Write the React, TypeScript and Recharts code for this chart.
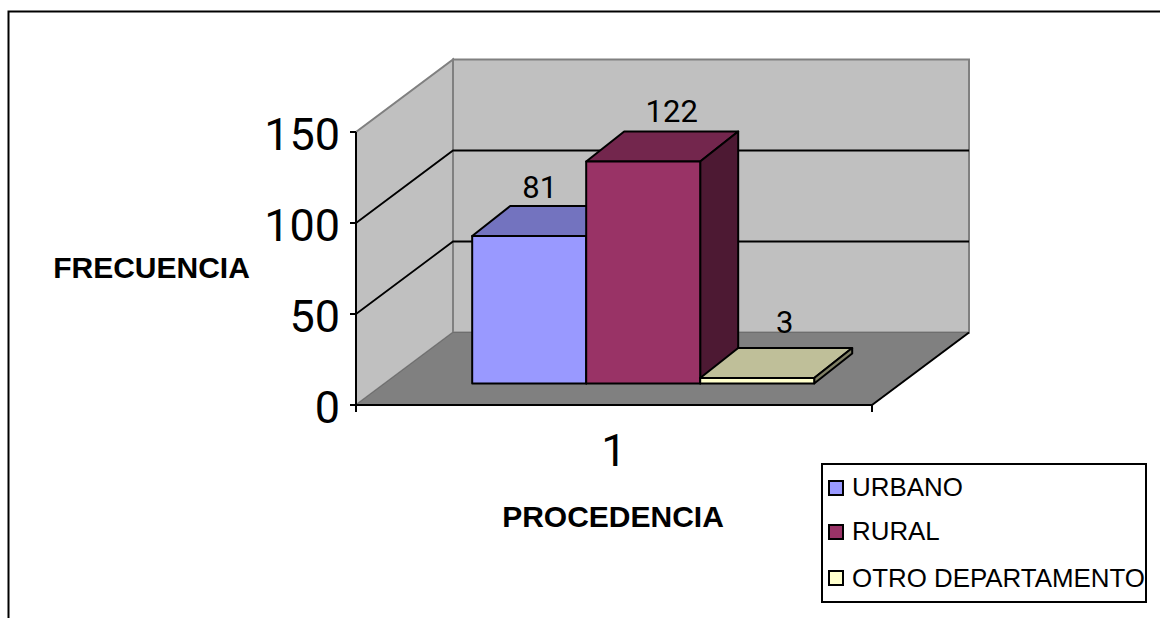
import React from "react";
import { BarChart, Bar, XAxis, YAxis, CartesianGrid, Legend, LabelList, Label } from "recharts";

const categories = ["1"];
const urbano = [81];
const rural = [122];
const otroDepartamento = [3];
const yTicks = [0, 50, 100, 150];

const chartRows = categories.map((procedencia, i) => ({
  procedencia,
  urbano: urbano[i],
  rural: rural[i],
  otro: otroDepartamento[i],
}));

const FONT = "'Liberation Sans', Arial, sans-serif";
// Numerals use a face whose "1" has no foot.
const NUM_FONT = "Roboto, 'Liberation Sans', sans-serif";

// Oblique projection of the box: how far the back wall sits from the front plane.
const ROOM_DX = 97;
const ROOM_DY = 72.5;
const PLOT_TOP = 132;
// Bars stand part way into the floor and have their own, shorter depth.
const BAR_SHIFT_X = 29.5;
const BAR_SHIFT_Y = 21.5;
const BAR_DX = 38;
const BAR_DY = 30;

const pts = (list: number[][]) => list.map((p) => p.join(",")).join(" ");

function RoomLine(props: any) {
  const { x1, x2, y1 } = props;
  const y = y1;
  const isBase = Math.abs(y - 405) < 1;
  const isTop = Math.abs(y - PLOT_TOP) < 1;
  return (
    <g>
      {isBase && (
        <g>
          <polygon
            points={pts([[x1, y], [x1, PLOT_TOP], [x1 + ROOM_DX, PLOT_TOP - ROOM_DY], [x1 + ROOM_DX, y - ROOM_DY]])}
            fill="#C0C0C0"
            stroke="#808080"
            strokeWidth={2}
          />
          <polygon
            points={pts([[x1 + ROOM_DX, PLOT_TOP - ROOM_DY], [x2 + ROOM_DX, PLOT_TOP - ROOM_DY], [x2 + ROOM_DX, y - ROOM_DY], [x1 + ROOM_DX, y - ROOM_DY]])}
            fill="#C0C0C0"
            stroke="#808080"
            strokeWidth={2}
          />
          <polygon
            points={pts([[x1, y], [x2, y], [x2 + ROOM_DX, y - ROOM_DY], [x1 + ROOM_DX, y - ROOM_DY]])}
            fill="#808080"
            stroke="#6E6E6E"
            strokeWidth={1}
          />
          <line x1={x2} y1={y} x2={x2 + ROOM_DX} y2={y - ROOM_DY} stroke="#000" strokeWidth={2} />
          <line x1={x2} y1={y} x2={x2} y2={y + 7} stroke="#000" strokeWidth={2} />
          <line x1={x1} y1={y} x2={x1} y2={y + 7} stroke="#000" strokeWidth={2} />
        </g>
      )}
      {!isBase && !isTop && (
        <polyline
          points={pts([[x1, y], [x1 + ROOM_DX, y - ROOM_DY], [x2 + ROOM_DX, y - ROOM_DY]])}
          fill="none"
          stroke="#000"
          strokeWidth={1.8}
        />
      )}
    </g>
  );
}

const Box3D = (top: string, side: string) => (props: any) => {
  const { x, y, width, height, fill } = props;
  const l = x + BAR_SHIFT_X;
  const r = l + width;
  const t = y - BAR_SHIFT_Y;
  const b = t + height;
  return (
    <g stroke="#000" strokeWidth={2} strokeLinejoin="round">
      <polygon points={pts([[l, t], [r, t], [r + BAR_DX, t - BAR_DY], [l + BAR_DX, t - BAR_DY]])} fill={top} />
      <polygon points={pts([[r, t], [r + BAR_DX, t - BAR_DY], [r + BAR_DX, b - BAR_DY], [r, b]])} fill={side} />
      <rect x={l} y={t} width={width} height={height} fill={fill} />
    </g>
  );
};

const valueLabel = (dx: number, dy: number) => (props: any) => {
  const { x, y, width, value } = props;
  return (
    <text x={x + width / 2 + dx} y={y + dy} textAnchor="middle" fontFamily={NUM_FONT} fontSize={31} fill="#000">
      {value}
    </text>
  );
};

function YTick(props: any) {
  const { y, payload } = props;
  return (
    <text x={340} y={y + 18} textAnchor="end" fontFamily={NUM_FONT} fontSize={45} fill="#000">
      {payload.value}
    </text>
  );
}

function XTick(props: any) {
  const { x, payload } = props;
  return (
    <text x={x} y={466} textAnchor="middle" fontFamily={NUM_FONT} fontSize={45} fill="#000">
      {payload.value}
    </text>
  );
}

const legendRows = [
  { swatch: 17, baseline: 33 },
  { swatch: 61, baseline: 77 },
  { swatch: 107, baseline: 124 },
];

function LegendBox(props: any) {
  const items = props.payload || [];
  return (
    <div
      style={{
        position: "relative",
        width: 326,
        height: 140,
        border: "2px solid #000",
        boxSizing: "border-box",
        background: "#fff",
        fontFamily: FONT,
        fontSize: 25.9,
        color: "#000",
      }}
    >
      {items.map((it: any, i: number) => (
        <React.Fragment key={it.value}>
          <div
            style={{
              position: "absolute",
              left: 5,
              top: legendRows[i].swatch - 2,
              width: 16,
              height: 16,
              boxSizing: "border-box",
              border: "2px solid #000",
              background: it.color,
            }}
          />
          <div
            style={{
              position: "absolute",
              left: 29,
              top: legendRows[i].baseline - 2 - 23,
              lineHeight: "29px",
              whiteSpace: "nowrap",
            }}
          >
            {it.value}
          </div>
        </React.Fragment>
      ))}
    </div>
  );
}

export default function App() {
  return (
    <div style={{ position: "absolute", left: 0, top: 0, width: 1160, height: 618, overflow: "hidden", background: "#fff" }}>
      <BarChart
        width={1160}
        height={618}
        data={chartRows}
        margin={{ left: 296, right: 288, top: PLOT_TOP, bottom: 183 }}
        barCategoryGap="16.8%"
        barGap={0}
      >
        <CartesianGrid horizontal={RoomLine as any} vertical={false} />
        <XAxis
          dataKey="procedencia"
          height={30}
          tickLine={false}
          axisLine={{ stroke: "#000", strokeWidth: 2 }}
          tick={<XTick />}
          interval={0}
        >
          <Label
            content={() => (
              <text x={613} y={527} textAnchor="middle" fontFamily={FONT} fontSize={30} fontWeight="bold" fill="#000">
                PROCEDENCIA
              </text>
            )}
          />
        </XAxis>
        <YAxis
          width={60}
          domain={[0, 150]}
          ticks={yTicks}
          interval={0}
          tickSize={6}
          tickLine={{ stroke: "#000", strokeWidth: 2 }}
          axisLine={{ stroke: "#000", strokeWidth: 2 }}
          tick={<YTick />}
        >
          <Label
            content={() => (
              <text x={151.5} y={278} textAnchor="middle" fontFamily={FONT} fontSize={30} fontWeight="bold" fill="#000">
                FRECUENCIA
              </text>
            )}
          />
        </YAxis>
        <Legend
          layout="horizontal"
          verticalAlign="middle"
          itemSorter={null as any}
          wrapperStyle={{ position: "absolute", left: 821, top: 463, width: 326, height: 140, margin: 0, padding: 0 }}
          content={<LegendBox />}
        />
        <Bar dataKey="urbano" name="URBANO" fill="#9999FF" isAnimationActive={false} shape={Box3D("#7373BF", "#4D4D80")}>
          <LabelList dataKey="urbano" content={valueLabel(40, -59.6)} />
        </Bar>
        <Bar dataKey="rural" name="RURAL" fill="#993366" isAnimationActive={false} shape={Box3D("#73264D", "#4D1933")}>
          <LabelList dataKey="rural" content={valueLabel(58, -61)} />
        </Bar>
        <Bar dataKey="otro" name="OTRO DEPARTAMENTO" fill="#FFFFCC" isAnimationActive={false} shape={Box3D("#BFBF99", "#808066")}>
          <LabelList dataKey="otro" content={valueLabel(57, -66.5)} />
        </Bar>
      </BarChart>
      <svg width={1160} height={618} style={{ position: "absolute", left: 0, top: 0, pointerEvents: "none" }}>
        <polyline points="8.5,618 8.5,11.5 1160,11.5" fill="none" stroke="#000" strokeWidth={2} />
      </svg>
    </div>
  );
}
